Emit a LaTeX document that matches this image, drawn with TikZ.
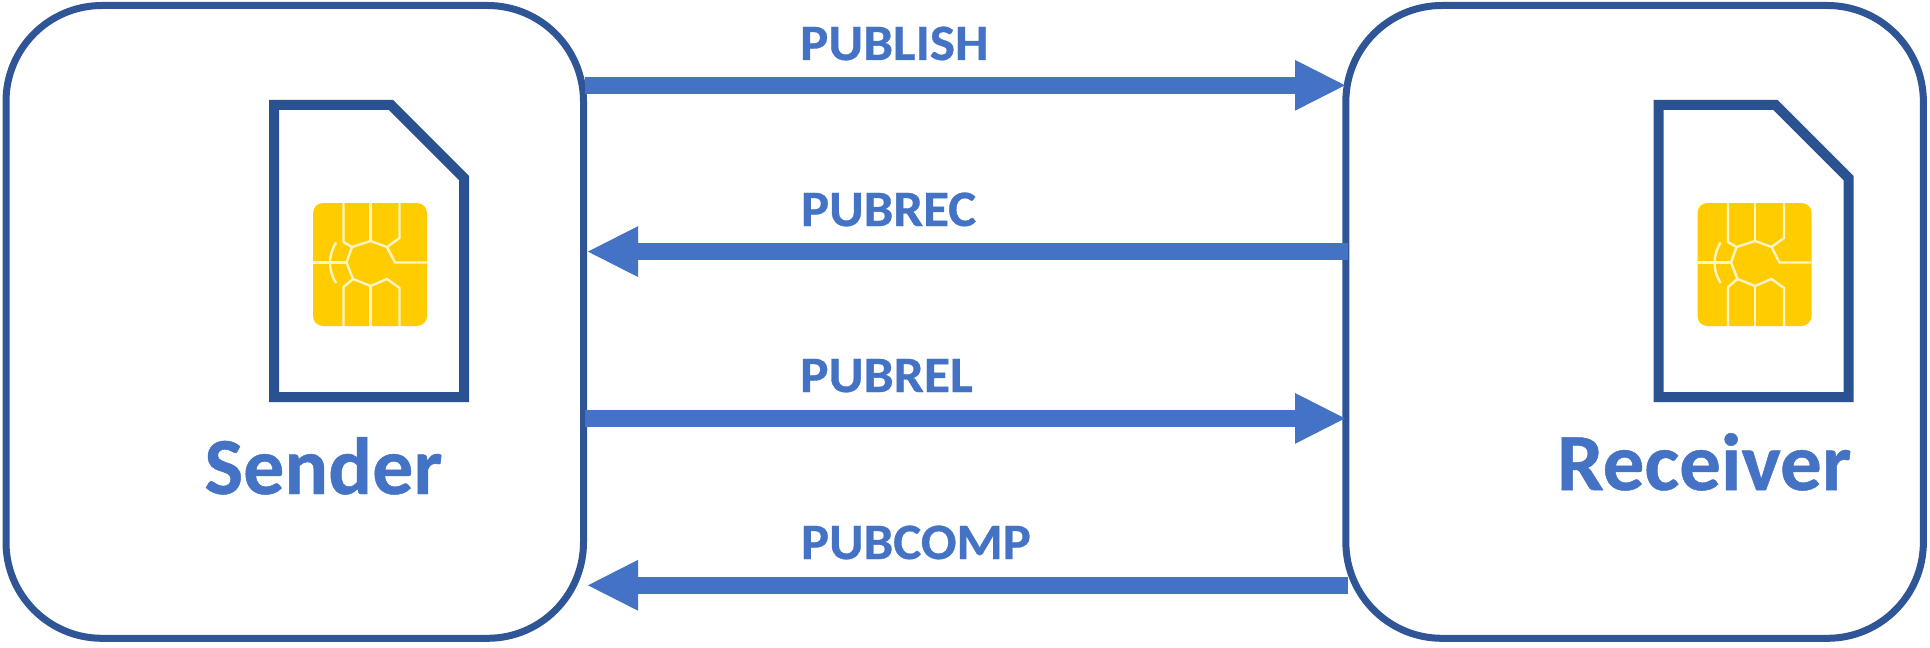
\documentclass[tikz,border=0pt]{standalone}
\usepackage{graphicx}
\usepackage{fontspec}
\setmainfont{Carlito}
\newfontfamily\heavyfont[BoldFeatures={FakeBold=0.6}]{Carlito}
\usetikzlibrary{arrows.meta}
\definecolor{boxline}{HTML}{2F5597}
\definecolor{simline}{HTML}{2A5290}
\definecolor{flow}{HTML}{4472C4}
\definecolor{chipfill}{HTML}{FFCC00}
\definecolor{chipline}{HTML}{FFF4C4}
\tikzset{
  party/.style={draw=boxline,line width=3.5pt,rounded corners=48pt,fill=white,minimum width=288.75pt,minimum height=316.4pt,inner sep=0pt,outer sep=0pt},
  msg/.style={flow,line width=8.5pt,-{Triangle[length=25pt 0 0,width=25.4pt 0 0,line width=0pt]}},
  msglabel/.style={anchor=base west,inner sep=0pt,outer sep=0pt,text=flow,font=\heavyfont\bfseries\fontsize{25.5}{25.5}\selectfont},
  partylabel/.style={anchor=base west,inner sep=0pt,outer sep=0pt,text=flow,font=\heavyfont\bfseries\fontsize{40.5}{40.5}\selectfont},
  simcard/.style={draw=simline,line width=5pt,miter limit=10,fill=white},
  contact/.style={chipline,line width=1.2pt,line join=round}
}
\newcommand{\simicon}[1]{%
  \begin{scope}[xshift=#1*0.5pt]
    \draw[simcard] (274,105) -- (391,105) -- (464,178) -- (464,397) -- (274,397) -- cycle;
    \fill[chipfill,rounded corners=5pt] (313,203) rectangle (427,326);
    \draw[contact] (343.5,203) -- (343.5,242) -- (352,247) -- (370.5,241) -- (387,247) -- (399.5,238) -- (399.5,203);
    \draw[contact] (370.5,203) -- (370.5,241);
    \draw[contact] (387,247) -- (395,262.5) -- (427,262.5);
    \draw[contact] (313,262.5) -- (346.5,262.5);
    \draw[contact] (352,247) -- (346.5,262.5) -- (353,279) -- (370.5,286) -- (387,279) -- (399.5,288) -- (399.5,326);
    \draw[contact] (353,279) -- (343.5,287) -- (343.5,326);
    \draw[contact] (370.5,286) -- (370.5,326);
    \draw[contact] (336,242.5) .. controls (328,256) and (328,270) .. (336,283);
  \end{scope}}
\begin{document}
\begin{tikzpicture}[x=0.5pt,y=-0.5pt]
  \useasboundingbox (0,0) rectangle (1930,647);
  \node[party] (sender) at (294.75,321.9) {};
  \node[party] (receiver) at (1634.6,321.9) {};
  \simicon{0}
  \simicon{1384.5}
  \node[partylabel] (sendertext) at (204.5,494) {\scalebox{1.01}[1]{Sender}};
  \node[partylabel] (receivertext) at (1557,490) {\scalebox{1.026}[1]{Receiver}};
  \coordinate (publishfrom) at (585,85.3);
  \coordinate (publishto) at (1345,85.3);
  \coordinate (pubrecfrom) at (1348,251.6);
  \coordinate (pubrecto) at (588,251.6);
  \coordinate (pubrelfrom) at (585,418.4);
  \coordinate (pubrelto) at (1345,418.4);
  \coordinate (pubcompfrom) at (1348,585.3);
  \coordinate (pubcompto) at (588,585.3);
  \draw[msg] (publishfrom) -- (publishto);
  \draw[msg] (pubrecfrom) -- (pubrecto);
  \draw[msg] (pubrelfrom) -- (pubrelto);
  \draw[msg] (pubcompfrom) -- (pubcompto);
  \node[msglabel] (publish) at (800,60) {\scalebox{1.045}[1]{PUBLISH}};
  \node[msglabel] (pubrec) at (801,226) {\scalebox{1.037}[1]{PUBREC}};
  \node[msglabel] (pubrel) at (800,392) {\scalebox{1.052}[1]{PUBREL}};
  \node[msglabel] (pubcomp) at (801,559) {\scalebox{1.036}[1]{PUBCOMP}};
\end{tikzpicture}
\end{document}
